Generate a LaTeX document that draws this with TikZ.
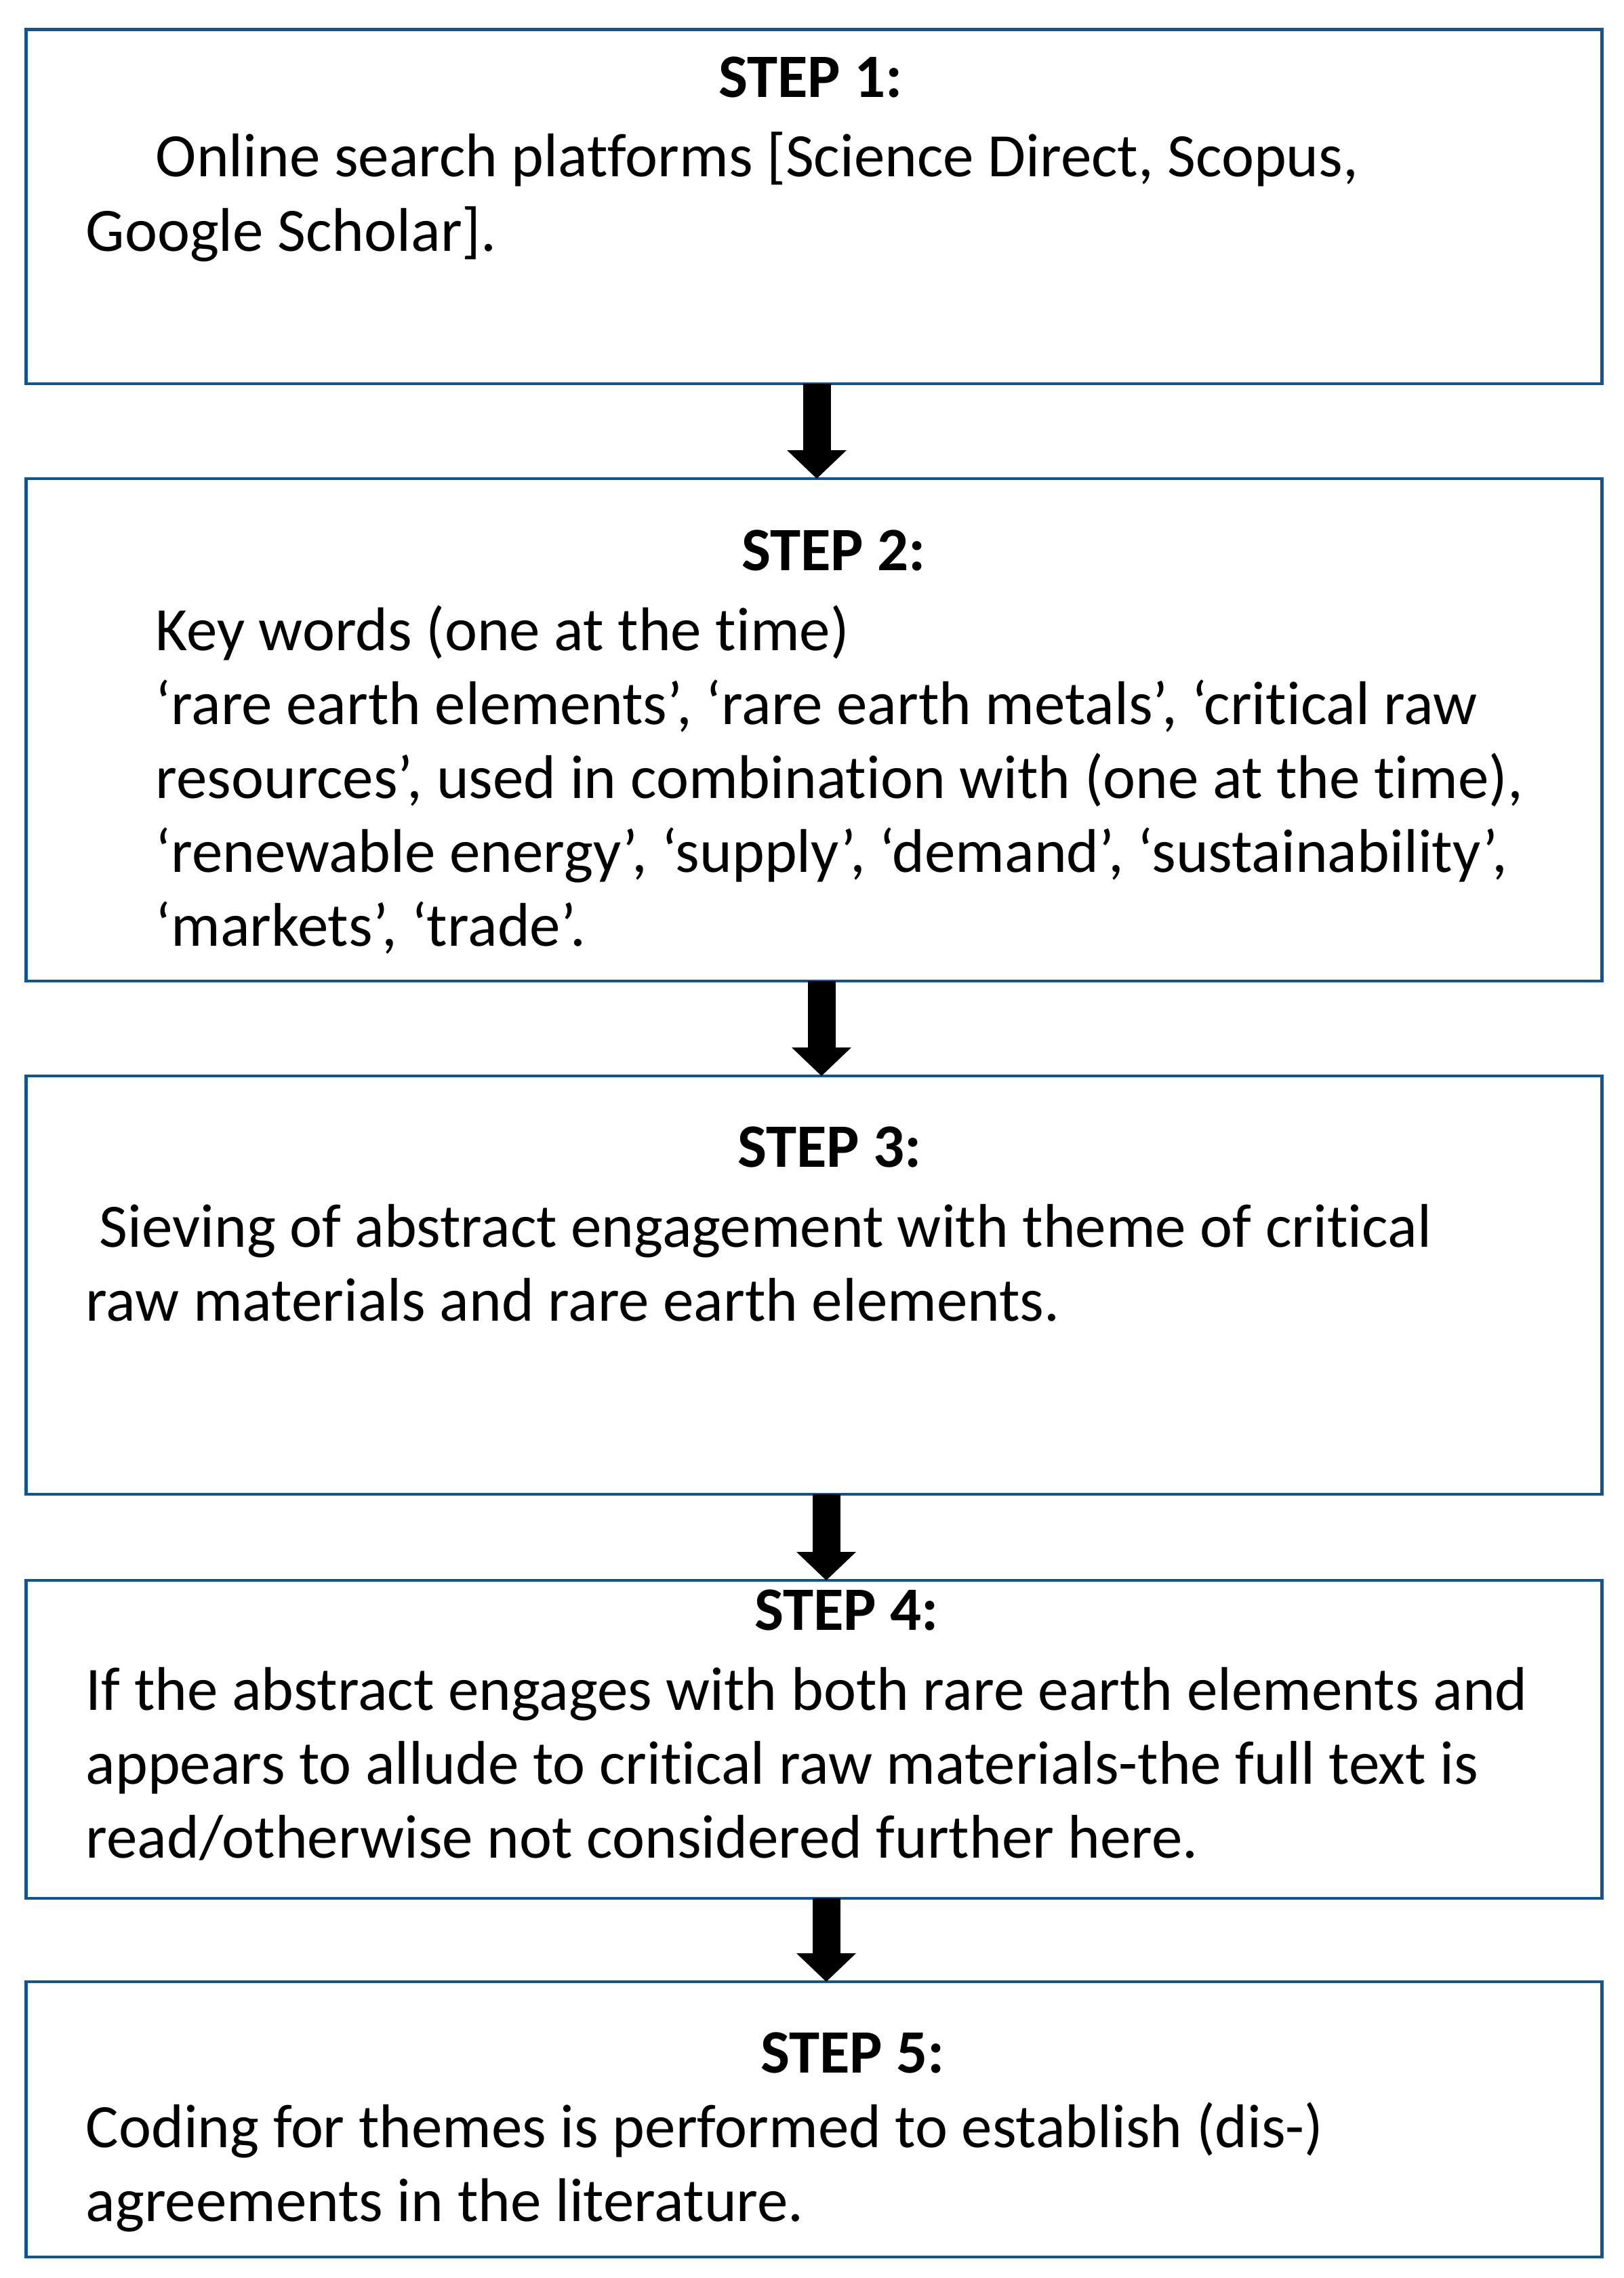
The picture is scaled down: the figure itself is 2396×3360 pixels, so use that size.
\documentclass[tikz,border=0pt]{standalone}
\usepackage{fontspec}
\setmainfont{Carlito}[Ligatures=NoCommon]
\usetikzlibrary{arrows.meta}
\definecolor{boxblue}{RGB}{16,84,148}
\begin{document}
\begin{tikzpicture}[x=0.25pt,y=-0.25pt,
  stepbox/.style={draw=boxblue, line width=1.15pt, rectangle, inner sep=0pt, outer sep=0pt, anchor=north west, minimum width=581.25pt},
  title/.style={anchor=base, font=\bfseries\fontsize{22.75pt}{27pt}\selectfont, inner sep=0pt},
  body/.style={anchor=base west, font=\fontsize{22.75pt}{27pt}\selectfont, inner sep=0pt},
  bigarrow/.style={line width=10.25pt, -{Triangle[width=22pt,length=10.5pt,line width=0pt]}}]
\useasboundingbox (0,0) rectangle (2396,3360);
% boxes
\node[stepbox, minimum height=130.6pt] (b1) at (38.5,43.5) {};
\node[stepbox, minimum height=185.25pt] (b2) at (38.5,706) {};
\node[stepbox, minimum height=154.25pt] (b3) at (38.5,1587) {};
\node[stepbox, minimum height=117.25pt] (b4) at (38.5,2331) {};
\node[stepbox, minimum height=101.5pt] (b5) at (38.5,2923) {};
% arrow axes
\coordinate (x1) at (1205,0);
\coordinate (x2) at (1212,0);
\coordinate (x3) at (1219,0);
\coordinate (x4) at (1219,0);
\draw[bigarrow] (b1.south -| x1) -- (b2.north -| x1);
\draw[bigarrow] (b2.south -| x2) -- (b3.north -| x2);
\draw[bigarrow] (b3.south -| x3) -- (b4.north -| x3);
\draw[bigarrow] (b4.south -| x4) -- (b5.north -| x4);
% box 1
\node[title] (t1) at (1196,144) {STEP 1:};
\node[body] (l11) at (229,261) {Online search platforms [Science Direct, Scopus,};
\node[body] (l12) at (126,371) {Google Scholar].};
% box 2
\node[title] (t2) at (1230,841) {STEP 2:};
\node[body] (l21) at (229,959) {Key words (one at the time)};
\node[body] (l22) at (229,1068) {‘rare earth elements’, ‘rare earth metals’, ‘critical raw};
\node[body] (l23) at (229,1177) {resources’, used in combination with (one at the time),};
\node[body] (l24) at (229,1286) {‘renewable energy’, ‘supply’, ‘demand’, ‘sustainability’,};
\node[body] (l25) at (229,1395) {‘markets’, ‘trade’.};
% box 3
\node[title] (t3) at (1224,1721) {STEP 3:};
\node[body] (l31) at (146,1839) {Sieving of abstract engagement with theme of critical};
\node[body] (l32) at (126,1948) {raw materials and rare earth elements.};
% box 4
\node[title] (t4) at (1249,2404) {STEP 4:};
\node[body] (l41) at (126,2522) {If the abstract engages with both rare earth elements and};
\node[body] (l42) at (126,2631) {appears to allude to critical raw materials-the full text is};
\node[body] (l43) at (126,2740) {read/otherwise not considered further here.};
% box 5
\node[title] (t5) at (1258,3057) {STEP 5:};
\node[body] (l51) at (126,3167) {Coding for themes is performed to establish (dis-)};
\node[body] (l52) at (126,3276) {agreements in the literature.};
\end{tikzpicture}
\end{document}
